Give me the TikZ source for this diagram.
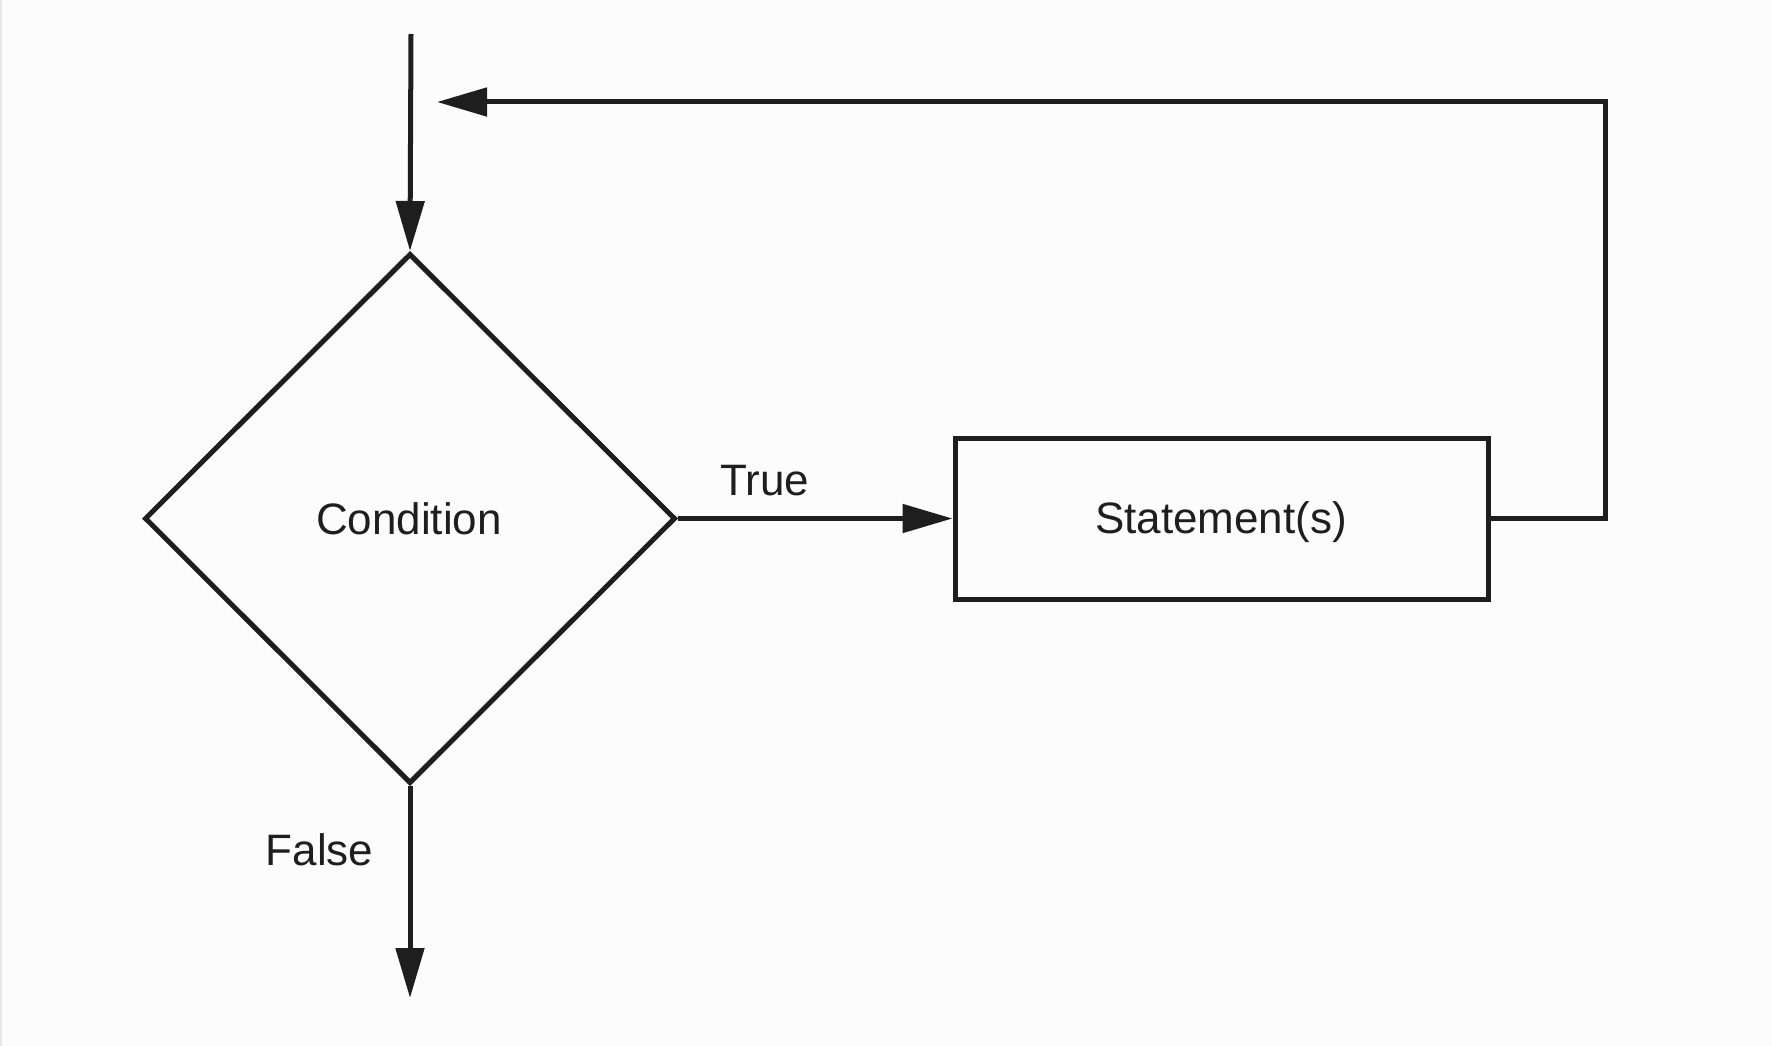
\documentclass[tikz,border=0pt]{standalone}
\usepackage{fontspec}
\setmainfont{Liberation Sans}
\usetikzlibrary{shapes.geometric,arrows.meta}
\definecolor{ink}{HTML}{1E1E1E}
\begin{document}
\begin{tikzpicture}[x=1pt,y=-1pt,
  flow/.style={draw=ink,line width=5pt,line join=miter},
  arr/.style={flow,-{Triangle[length=50pt,width=28pt]}},
  lbl/.style={text=ink,inner sep=0pt,anchor=base,font=\fontsize{44}{52}\selectfont},
  decision/.style={diamond,flow,minimum width=531pt,minimum height=530pt,inner sep=0pt},
  process/.style={rectangle,flow,minimum width=533pt,minimum height=161pt,inner sep=0pt}]
  % canvas and faint left rule
  \fill[white!99!black] (0,0) rectangle (1772,1046);
  \useasboundingbox (0,0) rectangle (1772,1046);
  \draw[color=black!10,line width=2pt] (1,0) -- (1,1046);

  % shapes
  \node[decision] (cond) at (410,518.5) {};
  \node[process] (stmt) at (1221.5,518.5) {};

  % texts
  \node[lbl] (condtxt) at (409,534) {Condition};
  \node[lbl] (stmttxt) at (1221,533) {Statement(s)};
  \node[lbl] (truetxt) at (765,495) {True};
  \node[lbl] (falsetxt) at (319.5,865) {False};

  % free ends of connectors
  \coordinate (entry) at (411,34);
  \coordinate (loopc) at (1605,102);
  \coordinate (looptip) at (437,102);
  \coordinate (exit) at (410,998);

  % connectors
  \draw[arr] (entry) -- (cond.north);
  \draw[arr] (cond.east) -- (stmt.west);
  \draw[arr] (stmt.east) -| (loopc) -- (looptip);
  \draw[arr] (cond.south) -- (exit);
\end{tikzpicture}
\end{document}
